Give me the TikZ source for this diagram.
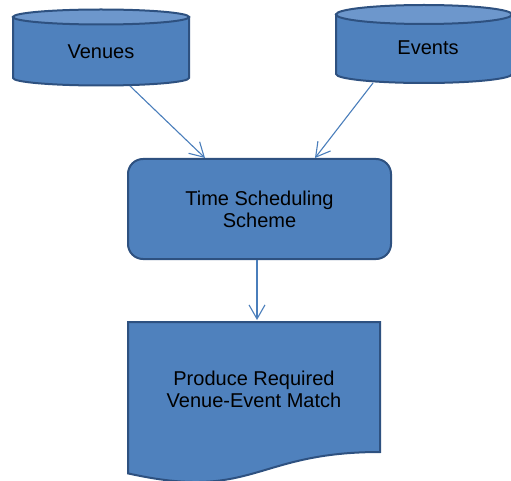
\documentclass[tikz,border=0pt]{standalone}
\usepackage{fontspec}
\setmainfont{Liberation Sans}
\usetikzlibrary{arrows.meta}
\definecolor{boxfill}{HTML}{4F81BD}
\definecolor{boxline}{HTML}{2E5180}
\definecolor{topfill}{HTML}{6D97CC}
\definecolor{arrcol}{HTML}{4A7EBB}
\tikzset{
  shapeline/.style={draw=boxline, line width=2pt, fill=boxfill},
  toplid/.style={draw=boxline, line width=2pt, fill=topfill},
  lbl/.style={font=\fontsize{20}{22}\selectfont, text=black, align=center, inner sep=0pt},
  conn/.style={draw=arrcol, line width=1.1pt, -{Straight Barb[length=14pt,width=16pt,line width=1.1pt]}},
}
\begin{document}
\begin{tikzpicture}[x=1pt,y=-1pt]
\useasboundingbox (0,0) rectangle (511,481);
% Venues cylinder
\path[shapeline] (13,17) -- (13,78) arc[start angle=180,end angle=0,x radius=88,y radius=7.5] -- (189,17) -- cycle;
\path[toplid] (101,17) ellipse[x radius=88,y radius=7.5];
\node[lbl] (ven) at (101,52) {Venues};
% Events cylinder
\path[shapeline] (336,14.5) -- (336,74) arc[start angle=180,end angle=0,x radius=88,y radius=9] -- (512,14.5) -- cycle;
\path[toplid] (424,14.5) ellipse[x radius=88,y radius=9.5];
\node[lbl] (evt) at (428,48) {Events};
% Time scheduling scheme
\node[shapeline, rounded corners=15pt, minimum width=263pt, minimum height=100pt, lbl, inner sep=0pt] (tss) at (259.5,209) {Time Scheduling\\Scheme};
% Document shape
\path[shapeline] (128,322) -- (380,322) -- (380,452) .. controls (254,452) and (254,501.5) .. (128,473.4) -- cycle;
\node[lbl] (doc) at (254,389) {Produce Required\\Venue-Event Match};
% connector end points
\coordinate (venout) at (130,86);
\coordinate (evtout) at (373,83);
\coordinate (tssin1) at (205,158);
\coordinate (tssin2) at (315,158);
\coordinate (tssout) at (257,260);
\coordinate (docin) at (257,320);
\draw[conn] (venout) -- (tssin1);
\draw[conn] (evtout) -- (tssin2);
\draw[conn] (tssout) -- (docin);
\end{tikzpicture}
\end{document}
